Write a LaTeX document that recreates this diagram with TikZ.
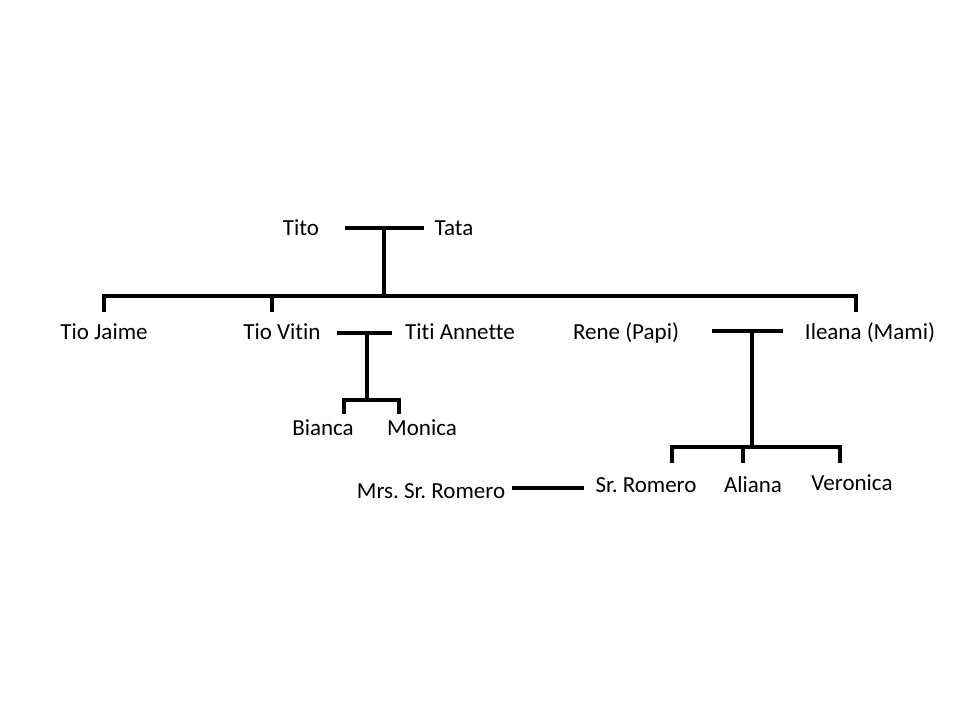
\documentclass[tikz,border=0pt]{standalone}
\usepackage{fontspec}
\setmainfont{Carlito}[Ligatures=NoCommon]
\usepackage{tikz}
\frenchspacing
\tikzstyle{person} = [anchor=base, inner sep=0pt]
\tikzstyle{tie} = [draw, line width=4pt]

\begin{document}
\begin{tikzpicture}[x=1pt, y=-1pt, font=\fontsize{23}{27}\selectfont]
        \useasboundingbox (0,0) rectangle (960,720);
        % grandparents
        \path[] node[person] (tito) at (301,235) {Tito};
        \path[] node[person] (tata) at (454,235) {Tata};
        \coordinate (tt-l) at (345,228);
        \coordinate (tt-r) at (424,228);
        \coordinate (tt-m) at (384,228);
        \coordinate (gen1) at (384,296);
        % their children
        \path[] node[person] (jaime) at (104,339) {Tio Jaime};
        \path[] node[person] (vitin) at (282,339) {Tio Vitin};
        \path[] node[person] (annette) at (460,339) {Titi Annette};
        \path[] node[person] (rene) at (626,339) {Rene (Papi)};
        \path[] node[person] (ileana) at (870,339) {Ileana (Mami)};
        \coordinate (gen1-l) at (104,296);
        \coordinate (gen1-v) at (272,296);
        \coordinate (gen1-r) at (856,296);
        \coordinate (jaime-up) at (104,312);
        \coordinate (vitin-up) at (272,312);
        \coordinate (ileana-up) at (856,312);
        % Vitin and Annette
        \coordinate (va-l) at (337,333);
        \coordinate (va-r) at (392,333);
        \coordinate (va-m) at (367,333);
        \coordinate (gen2a) at (367,400);
        \coordinate (gen2a-l) at (344,400);
        \coordinate (gen2a-r) at (399,400);
        \path[] node[person] (bianca) at (323,435) {Bianca};
        \path[] node[person] (monica) at (422,435) {Monica};
        \coordinate (bianca-up) at (344,414);
        \coordinate (monica-up) at (399,414);
        % Rene and Ileana
        \coordinate (ri-l) at (712,331);
        \coordinate (ri-r) at (783,331);
        \coordinate (ri-m) at (752,331);
        \coordinate (gen2b) at (752,447);
        \coordinate (gen2b-l) at (672,447);
        \coordinate (gen2b-a) at (743,447);
        \coordinate (gen2b-r) at (840,447);
        \path[] node[person] (romero) at (646,492) {Sr. Romero};
        \path[] node[person] (aliana) at (753,492) {Aliana};
        \path[] node[person] (veronica) at (852,490) {Veronica};
        \path[] node[person] (mrs) at (431,498) {Mrs. Sr. Romero};
        \coordinate (romero-up) at (672,463);
        \coordinate (aliana-up) at (743,463);
        \coordinate (veronica-up) at (840,463);
        \coordinate (mr-l) at (512,488);
        \coordinate (mr-r) at (584,488);
        % lines
        \path[tie] (tt-l) -- (tt-r);
        \path[tie] (tt-m) -- (gen1);
        \path[tie] (jaime-up) -- (gen1-l) -- (gen1-r) -- (ileana-up);
        \path[tie] (gen1-v) -- (vitin-up);
        \path[tie] (va-l) -- (va-r);
        \path[tie] (va-m) -- (gen2a);
        \path[tie] (bianca-up) -- (gen2a-l) -- (gen2a-r) -- (monica-up);
        \path[tie] (ri-l) -- (ri-r);
        \path[tie] (ri-m) -- (gen2b);
        \path[tie] (romero-up) -- (gen2b-l) -- (gen2b-r) -- (veronica-up);
        \path[tie] (gen2b-a) -- (aliana-up);
        \path[tie] (mr-l) -- (mr-r);
      \end{tikzpicture}
\end{document}
